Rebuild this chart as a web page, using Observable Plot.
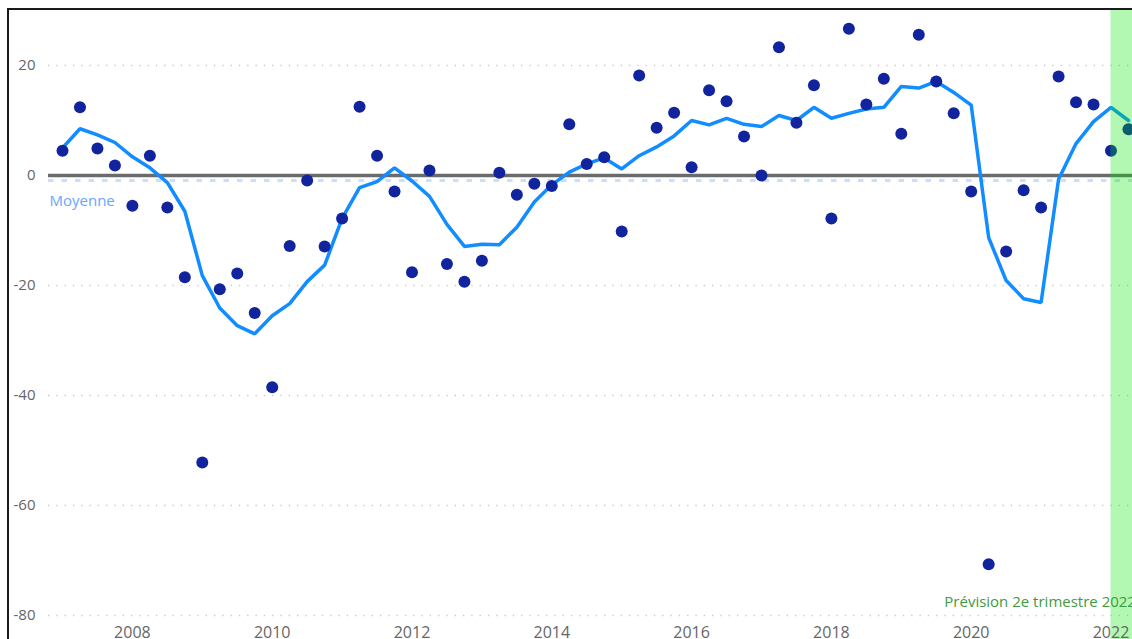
<!DOCTYPE html>
<html>
<head>
<meta charset="utf-8">
<script src="https://cdn.jsdelivr.net/npm/d3@7"></script>
<script src="https://cdn.jsdelivr.net/npm/@observablehq/plot@0.6"></script>
<style>
  html, body { margin: 0; padding: 0; background: #fff; overflow: hidden; }
  #wrap { position: relative; width: 1132px; height: 639px; overflow: hidden; }
  #frame { position: absolute; left: 7px; top: 8px; width: 1200px; height: 700px;
           border-left: 2px solid #1a1a1a; border-top: 2px solid #1a1a1a; box-sizing: border-box; }
  #chart { position: absolute; left: 0; top: 0; }
</style>
</head>
<body>
<div id="wrap"><div id="chart"></div><div id="frame"></div></div>
<script>
// ---- data (quarterly, 2007 T1 -> 2022 T2) ----
const firstYear = 2007;
const observed = [
  4.5, 12.4, 4.9, 1.8,
  -5.5, 3.6, -5.8, -18.5,
  -52.2, -20.7, -17.8, -25.0,
  -38.5, -12.8, -0.9, -12.9,
  -7.8, 12.5, 3.6, -2.9,
  -17.6, 0.9, -16.1, -19.3,
  -15.5, 0.5, -3.5, -1.5,
  -1.9, 9.3, 2.1, 3.3,
  -10.2, 18.2, 8.7, 11.4,
  1.5, 15.5, 13.5, 7.1,
  0.0, 23.3, 9.6, 16.4,
  -7.8, 26.7, 12.9, 17.6,
  7.6, 25.6, 17.1, 11.3,
  -2.9, -70.7, -13.8, -2.7,
  -5.8, 18.0, 13.3, 12.9,
  4.5, 8.4
];
const smoothed = [
  5.0, 8.5, 7.4, 6.0,
  3.4, 1.4, -1.3, -6.5,
  -18.2, -24.1, -27.3, -28.8,
  -25.5, -23.3, -19.3, -16.3,
  -7.8, -2.2, -1.1, 1.4,
  -1.0, -3.8, -8.9, -12.9,
  -12.5, -12.6, -9.4, -4.8,
  -1.7, 0.6, 2.1, 3.2,
  1.2, 3.6, 5.2, 7.2,
  10.0, 9.2, 10.4, 9.3,
  8.9, 10.9, 10.0, 12.4,
  10.4, 11.3, 12.1, 12.4,
  16.2, 15.9, 17.1, 15.1,
  12.8, -11.3, -19.1, -22.4,
  -23.1, -0.7, 5.8, 9.8,
  12.4, 10.0
];
const meanValue = -0.9;
const meanLabel = "Moyenne";
const forecastStart = 2022;
const forecastEnd = 2022.5;
const forecastLabel = "Prévision 2e trimestre 2022";
const yTicks = [20, 0, -20, -40, -60, -80];
const xTicks = [2008, 2010, 2012, 2014, 2016, 2018, 2020, 2022];

const rows = observed.map((v, i) => ({ t: firstYear + i / 4, obs: v, avg: smoothed[i] }));

const font = "'Segoe UI', 'Open Sans', 'Noto Sans', sans-serif";

const chart = Plot.plot({
  width: 1132,
  height: 639,
  marginLeft: 48,
  marginRight: 0,
  marginTop: 10,
  marginBottom: 20,
  x: { type: "linear", domain: [2006.7997, 2022.3076] },
  y: { domain: [-80.73, 30] },
  style: { fontFamily: font, background: "transparent", overflow: "visible" },
  marks: [
    Plot.gridY(yTicks.filter(d => d !== 0), { stroke: "#c8c8c8", strokeOpacity: 1, strokeWidth: 1.3, strokeDasharray: "1.3,7" }),
    Plot.ruleY([meanValue], { stroke: "#c7e0fb", strokeWidth: 3, strokeDasharray: "5.5,8" }),
    Plot.ruleY([0], { stroke: "#6b6b6b", strokeWidth: 3.5 }),
    Plot.text([meanValue], { y: d => d, text: () => meanLabel, frameAnchor: "left", textAnchor: "start", dx: 1, dy: 21, fill: "#6aa6ff", fontSize: 15 }),
    Plot.line(rows, { x: "t", y: "avg", stroke: "#118DFF", strokeWidth: 3.5, strokeLinejoin: "miter" }),
    Plot.dot(rows, { x: "t", y: "obs", r: 6, fill: "#12239E", stroke: "none" }),
    Plot.rect([{ x1: forecastStart, x2: forecastEnd }], { x1: "x1", x2: "x2", y1: -85, y2: 30, fill: "#00e600", fillOpacity: 0.3 }),
    Plot.text([forecastLabel], { x: forecastEnd, y: -77.6, text: d => d, textAnchor: "end", dx: -10, fill: "#3f9a3f", fontSize: 15 }),
    Plot.axisY({ ticks: yTicks, tickSize: 0, tickPadding: 13, tickFormat: d => String(d), fontSize: 15, color: "#666" }),
    Plot.axisX({ ticks: xTicks, tickSize: 0, tickPadding: 7, tickFormat: d => String(d), fontSize: 16, color: "#666" })
  ]
});
document.getElementById("chart").appendChild(chart);
</script>
</body>
</html>
